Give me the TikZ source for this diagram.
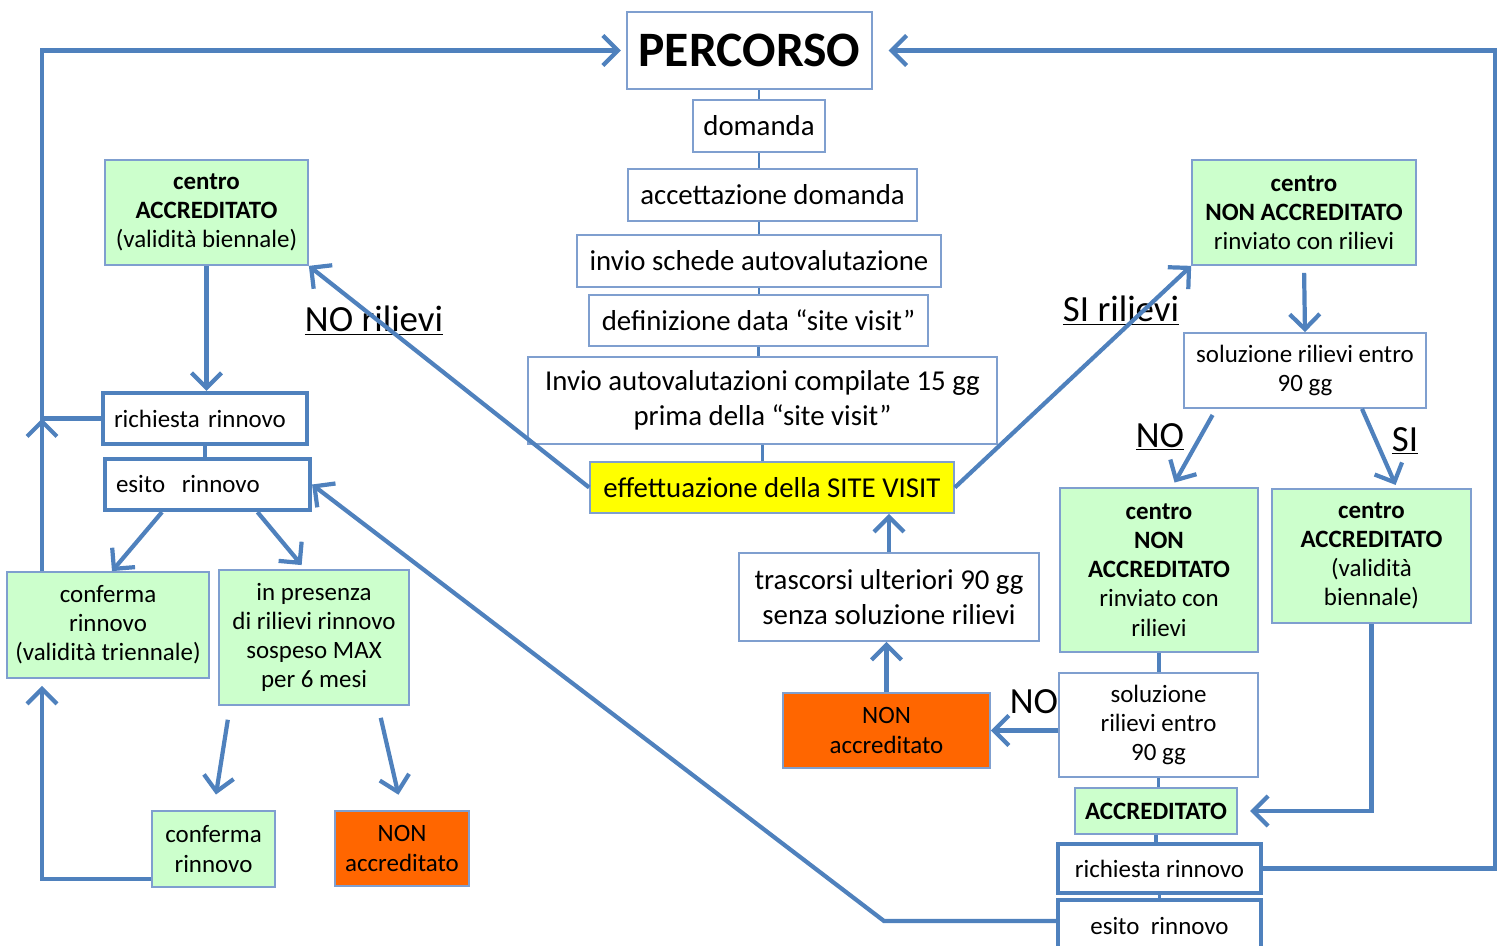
\documentclass[tikz,border=0pt]{standalone}
\usepackage{fontspec}
\setmainfont{Carlito}
\usetikzlibrary{arrows.meta}
\definecolor{lineBlue}{HTML}{4F81BD}
\definecolor{boxLine}{HTML}{7F9FCF}
\definecolor{paleGreen}{HTML}{CCFFCC}
\definecolor{nonOrange}{HTML}{FF6600}
\definecolor{visitYellow}{HTML}{FFFF00}
\newcommand{\titlesize}{\fontsize{28.2}{32}\selectfont\bfseries}
\newcommand{\mainsize}{\fontsize{16.4}{19.8}\selectfont}
\newcommand{\smallsize}{\fontsize{14.2}{16.6}\selectfont}
\newcommand{\labelsize}{\fontsize{21}{24}\selectfont}

\begin{document}
\begin{tikzpicture}[x=0.02cm, y=-0.02cm,
  box/.style={draw=boxLine, line width=1pt, fill=white, align=center,
    inner sep=1pt, font=\mainsize},
  greenbox/.style={box, fill=paleGreen, font=\smallsize},
  orangebox/.style={box, fill=nonOrange, font=\smallsize},
  renewbox/.style={box, draw=lineBlue, line width=2.4pt, font=\smallsize},
  arr/.style={-{Straight Barb[length=3mm, width=6mm]}, line width=2.4pt, lineBlue},
  link/.style={line width=1.6pt, lineBlue},
  lbl/.style={font=\labelsize, inner sep=0pt}
]
\useasboundingbox (0,0) rectangle (1497,946);
\clip (0,0) rectangle (1497,946);

% central path
\node[box, minimum width=4.9cm, minimum height=1.54cm, font=\titlesize] (perc) at (749.5,50.5) {PERCORSO};
\node[box, minimum width=2.64cm, minimum height=1.04cm] (dom) at (759,126) {domanda};
\node[box, minimum width=5.78cm, minimum height=1.04cm] (acc) at (772.5,195) {accettazione domanda};
\node[box, minimum width=7.28cm, minimum height=1.04cm] (schede) at (759,261) {invio schede autovalutazione};
\node[box, minimum width=6.78cm, minimum height=1.02cm] (data) at (758.5,320.5) {definizione data “site visit”};
\node[box, minimum width=9.38cm, minimum height=1.74cm] (compil) at (762.5,400.5) {Invio autovalutazioni compilate 15 gg\\prima della “site visit”};
\node[box, fill=visitYellow, minimum width=7.28cm, minimum height=1.02cm] (visit) at (772,487.5) {effettuazione della SITE VISIT};
\node[box, minimum width=6cm, minimum height=1.76cm] (trasc) at (889,597) {trascorsi ulteriori 90 gg\\senza soluzione rilievi};
\node[orangebox, minimum width=4.14cm, minimum height=1.5cm] (nonmid) at (886.5,730.5) {NON\\accreditato};

% left side: renewal of accredited centre
\node[greenbox, minimum width=4.06cm, minimum height=2.1cm] (accL) at (206.5,212.5) {\textbf{centro}\\\textbf{ACCREDITATO}\\(validità biennale)};
\node[renewbox, minimum width=4.08cm, minimum height=1.02cm, text width=3.64cm, align=left] (richL) at (205,418.5) {richiesta rinnovo};
\node[renewbox, minimum width=4.1cm, minimum height=1.02cm, text width=3.66cm, align=left] (esitoL) at (207.5,484.5) {esito\ \ rinnovo};
\node[greenbox, minimum width=4.04cm, minimum height=2.12cm] (confL) at (108,625) {conferma\\rinnovo\\(validità triennale)};
\node[greenbox, minimum width=3.8cm, minimum height=2.7cm] (pres) at (314,637.5) {in presenza\\di rilievi rinnovo\\sospeso MAX\\per 6 mesi};
\node[greenbox, minimum width=2.46cm, minimum height=1.52cm] (conf2) at (213.5,849) {conferma\\rinnovo};
\node[orangebox, minimum width=2.68cm, minimum height=1.5cm] (nonL) at (402,848.5) {NON\\accreditato};

% right side: centre sent back with remarks
\node[greenbox, minimum width=4.48cm, minimum height=2.1cm] (nonR) at (1304,212.5) {\textbf{centro}\\\textbf{NON ACCREDITATO}\\rinviato con rilievi};
\node[box, font=\smallsize, minimum width=4.84cm, minimum height=1.5cm] (solR) at (1305,370.5) {soluzione rilievi entro\\90 gg};
\node[greenbox, minimum width=3.96cm, minimum height=3.28cm] (nonR2) at (1159,570) {\textbf{centro}\\\textbf{NON}\\\textbf{ACCREDITATO}\\rinviato con\\rilievi};
\node[greenbox, minimum width=3.98cm, minimum height=2.68cm] (accR) at (1371.5,556) {\textbf{centro}\\\textbf{ACCREDITATO}\\(validità\\biennale)};
\node[box, font=\smallsize, minimum width=3.98cm, minimum height=2.08cm] (sol2) at (1158.5,725) {soluzione\\rilievi entro\\90 gg};
\node[greenbox, minimum width=3.24cm, minimum height=0.92cm] (accred) at (1156,811) {\textbf{ACCREDITATO}};
\node[renewbox, minimum width=4.06cm, minimum height=0.98cm] (richR) at (1159.5,868.5) {richiesta rinnovo};
\node[renewbox, minimum width=4.06cm, minimum height=1.02cm] (esitoR) at (1159.5,925.5) {esito\ \ rinnovo};

% labels
\node[lbl] (noRil) at (374,321) {\underline{NO rilievi}};
\node[lbl] (siRil) at (1121,311) {\underline{SI rilievi}};
\node[lbl] (noUp) at (1160,437) {\underline{NO}};
\node[lbl] (siUp) at (1405,441) {\underline{SI}};
\node[lbl] (noLow) at (1034,702) {NO};

% free ends
\coordinate (leftEdge) at (42,50.5);
\coordinate (rightEdge) at (1495,50.5);
\coordinate (kneeE) at (884,921);

% chain ticks
\draw[link] (dom.north) -- (dom.north |- perc.south);
\draw[link] (dom.south) -- (dom.south |- acc.north);
\draw[link] (schede.north) -- (schede.north |- acc.south);
\draw[link] (schede.south) -- (schede.south |- data.north);
\draw[link] (data.south) -- (data.south |- compil.north);
\draw[link] (compil.south) -- (compil.south |- visit.north);

% outcomes of the visit
\draw[arr] (visit.west) -- (accL.south east);
\draw[arr] (visit.east) -- (nonR.south west);
\draw[arr, shorten <=4pt] (nonR.south) -- (solR.north);
\draw[arr, shorten <=4pt, shorten >=3pt] ([xshift=-1.78cm]solR.south) -- ([xshift=0.26cm]nonR2.north);
\draw[arr, shorten >=2pt] ([xshift=1.14cm]solR.south) -- ([xshift=0.51cm]accR.north);
\draw[link, line width=2.4pt] (nonR2.south) -- (nonR2.south |- sol2.north);
\draw[link] (sol2.south) -- (sol2.south |- accred.north);
\draw[arr, shorten >=7pt] (accR.south) |- (accred.east);
\draw[link, line width=2.4pt] (accred.south) -- (accred.south |- richR.north);
\draw[link] (richR.south) -- (esitoR.north);
\draw[arr] (sol2.west |- nonmid.east) -- (nonmid.east);
\draw[arr] (nonmid.north) -- (nonmid.north |- trasc.south);
\draw[arr] (trasc.north) -- (trasc.north |- visit.south);

% renewal loops
\draw[arr, shorten >=9pt] (richR.east) -| (rightEdge) |- (perc.east);
\draw[arr] (esitoR.west |- kneeE) -- (kneeE) -- (esitoL.east);
\draw[arr, shorten >=3pt] (richL.west) -| (leftEdge) |- (perc.west);
\draw[arr] (accL.south) -- (accL.south |- richL.north);
\draw[link, line width=2.4pt] (richL.south) -- (richL.south |- esitoL.north);
\draw[arr] (confL.north -| leftEdge) -- (leftEdge |- richL.west);
\draw[arr] ([xshift=-0.91cm]esitoL.south) -- ([xshift=0.08cm]confL.north);
\draw[arr, shorten >=3pt] ([xshift=1cm]esitoL.south) -- ([xshift=-0.18cm]pres.north);
\draw[arr, shorten <=8pt, shorten >=9pt] ([xshift=-1.68cm]pres.south) -- (conf2.north);
\draw[arr, shorten <=7pt, shorten >=9pt] ([xshift=1.28cm]pres.south) -- (nonL.north);
\draw[arr, shorten >=4pt] ([yshift=5pt]conf2.south west) -| (confL.south -| leftEdge);
\end{tikzpicture}
\end{document}
